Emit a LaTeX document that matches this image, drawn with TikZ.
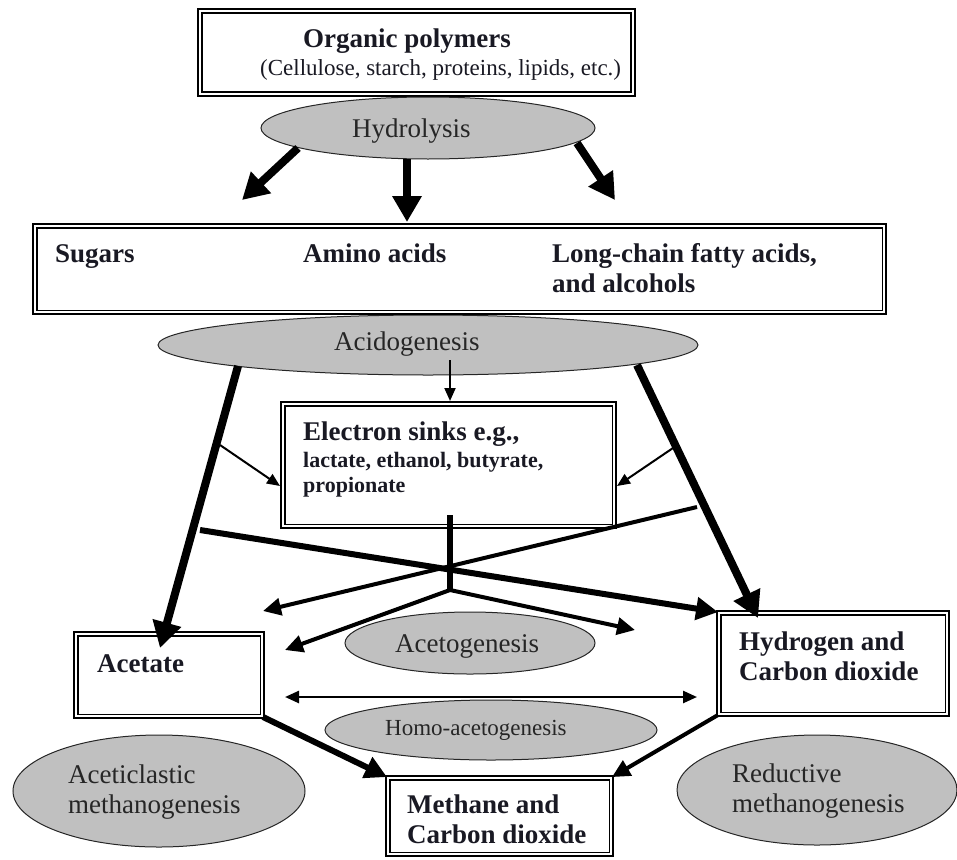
\documentclass[tikz,border=0pt]{standalone}
\usepackage{fontspec}
\setmainfont{Liberation Serif}
\usetikzlibrary{shapes.geometric,arrows.meta}
\definecolor{procgray}{RGB}{192,192,192}
\definecolor{inktext}{RGB}{25,25,35}

\begin{document}
\begin{tikzpicture}[x=1pt,y=-1pt,
  frame/.style={draw=black, double=white, double distance=2.4pt, line width=1.5pt,
                fill=white, rectangle, inner sep=0pt},
  phase/.style={ellipse, draw=black!85, line width=1pt, fill=procgray, inner sep=0pt},
  bigT/.style={font=\bfseries\fontsize{27}{30}\selectfont, text=inktext, anchor=base west, inner sep=0pt},
  midT/.style={font=\bfseries\fontsize{22}{25}\selectfont, text=inktext, anchor=base west, inner sep=0pt},
  plainT/.style={font=\fontsize{23}{26}\selectfont, text=inktext, anchor=base west, inner sep=0pt},
  phaseT/.style={font=\fontsize{27}{30}\selectfont, text=black!85, anchor=base west, inner sep=0pt},
  smallphaseT/.style={font=\fontsize{23}{26}\selectfont, text=black!85, anchor=base west, inner sep=0pt},
  flowH/.style={line width=8pt, -{Triangle[length=26pt,width=28pt]}},
  flowM/.style={line width=6pt, -{Triangle[length=22pt,width=22pt]}},
  flowS/.style={line width=4pt, -{Triangle[length=18pt,width=17pt]}},
  flowT/.style={line width=2pt, -{Triangle[length=13pt,width=11pt]}},
  flowB/.style={line width=2.5pt, {Triangle[length=14pt,width=12pt]}-{Triangle[length=14pt,width=12pt]}},
  stem/.style={line width=6pt}
]
\useasboundingbox (0,0) rectangle (957,859);

% ---------- polymers and hydrolysis ----------
\node[frame, minimum width=433pt, minimum height=83pt] (poly) at (416.5,52.5) {};
\node[bigT] (polyT) at (303,48) {Organic polymers};
\node[plainT] (polyS) at (260,75) {(Cellulose, starch, proteins, lipids, etc.)};

\node[phase, minimum width=334pt, minimum height=62pt] (hydro) at (428,128) {};
\node[phaseT] (hydroT) at (352,137) {Hydrolysis};

% ---------- monomers ----------
\node[phase, minimum width=540pt, minimum height=60pt] (acid) at (428,345) {};
\node[phaseT] (acidT) at (334,350) {Acidogenesis};

\node[frame, minimum width=849.4pt, minimum height=86.4pt] (mono) at (459.5,269) {};
\node[bigT] (sugT) at (55,262) {Sugars};
\node[bigT] (aminoT) at (303,262) {Amino acids};
\node[bigT] (lcfaT) at (552,262) {Long-chain fatty acids,};
\node[bigT] (lcfaT2) at (552,292) {and alcohols};

% ---------- electron sinks ----------
\node[frame, minimum width=331.4pt, minimum height=122.4pt] (sinks) at (448.5,465) {};
\node[bigT] (sinksT) at (303,440) {Electron sinks e.g.,};
\node[midT] (sinksT2) at (303,467) {lactate, ethanol, butyrate,};
\node[midT] (sinksT3) at (303,492) {propionate};

% ---------- intermediates ----------
\node[frame, minimum width=186.4pt, minimum height=82.4pt] (acet) at (169,675) {};
\node[bigT] (acetT) at (97,672) {Acetate};

\node[frame, minimum width=228.4pt, minimum height=101.4pt] (hyd) at (833,663.5) {};
\node[bigT] (hydT) at (739,650) {Hydrogen and};
\node[bigT] (hydT2) at (739,680) {Carbon dioxide};

\node[phase, minimum width=250pt, minimum height=62pt] (acetog) at (470,643) {};
\node[phaseT] (acetogT) at (395,652) {Acetogenesis};

\node[phase, minimum width=332pt, minimum height=60pt] (homo) at (491,730) {};
\node[smallphaseT] (homoT) at (385,735) {Homo-acetogenesis};

% ---------- methanogenesis ----------
\node[phase, minimum width=292pt, minimum height=112pt] (aceti) at (159,791) {};
\node[phaseT] (acetiT) at (68,783) {Aceticlastic};
\node[phaseT] (acetiT2) at (68,813) {methanogenesis};

\node[phase, minimum width=280pt, minimum height=110pt] (reduc) at (817,790) {};
\node[phaseT] (reducT) at (732,782) {Reductive};
\node[phaseT] (reducT2) at (732,812) {methanogenesis};

\node[frame, minimum width=223.4pt, minimum height=76.4pt] (meth) at (499.5,816) {};
\node[bigT] (methT) at (407,813) {Methane and};
\node[bigT] (methT2) at (407,843) {Carbon dioxide};

% ---------- connector end points ----------
\coordinate (hL0) at (298,148);  \coordinate (hL1) at (242,200);
\coordinate (hM0) at (407,159);  \coordinate (hM1) at (407,222);
\coordinate (hR0) at (577,143);  \coordinate (hR1) at (615,200);

\coordinate (aC0) at (450,360);  \coordinate (aC1) at (450,401);
\coordinate (aL0) at (238,366);  \coordinate (aL1) at (160,648);
\coordinate (aR0) at (637,365);  \coordinate (aR1) at (758,618);

\coordinate (sL0) at (220,445);  \coordinate (sL1) at (280,486);
\coordinate (sR0) at (673,448);  \coordinate (sR1) at (617,486);

\coordinate (xA0) at (200,530);
\coordinate (xB0) at (697,507);  \coordinate (xB1) at (263,611);

\coordinate (vTop) at (450,515); \coordinate (vFork) at (450,590);
\coordinate (fL1) at (285,650);  \coordinate (fR1) at (635,630);

\coordinate (hoL) at (285,697);  \coordinate (hoR) at (697,697);

% ---------- connectors ----------
\draw[flowH] (hL0) -- (hL1);
\draw[flowH] (hM0) -- (hM1);
\draw[flowH] (hR0) -- (hR1);

\draw[flowT] (aC0) -- (aC1);
\draw[flowH] (aL0) -- (aL1);
\draw[flowH] (aR0) -- (aR1);

\draw[flowT] (sL0) -- (sL1);
\draw[flowT] (sR0) -- (sR1);

\draw[flowS] (xB0) -- (xB1);
\draw[flowM] (xA0) -- (hyd.north west);

\draw[stem] (vTop) -- (vFork);
\draw[flowS] (vFork) -- (fL1);
\draw[flowS] (vFork) -- (fR1);

\draw[flowB] (hoL) -- (hoR);

\draw[flowM] (acet.south east) -- (meth.north west);
\draw[flowS] (hyd.south west) -- (meth.north east);
\end{tikzpicture}
\end{document}
